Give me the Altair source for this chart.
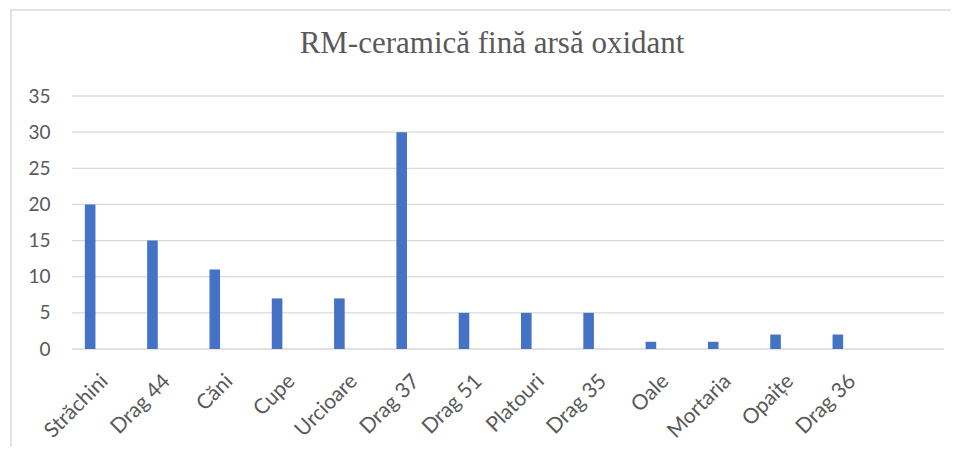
import altair as alt
import pandas as pd

categories = ["Străchini", "Drag 44", "Căni", "Cupe", "Urcioare", "Drag 37", "Drag 51",
              "Platouri", "Drag 35", "Oale", "Mortaria", "Opaițe", "Drag 36"]
values = [20, 15, 11, 7, 7, 30, 5, 5, 5, 1, 1, 2, 2]
y_ticks = [0, 5, 10, 15, 20, 25, 30, 35]
title_text = "RM-ceramică fină arsă oxidant"

df = pd.DataFrame({"cat": categories, "val": values})
df_title = pd.DataFrame({"t": [title_text]})
df_grid = pd.DataFrame({"v": y_ticks})

W, H = 872, 253
GREY = "#595959"

yscale = alt.Scale(domain=[0, 35], nice=False)
yaxis = alt.Axis(title=None, values=y_ticks, labelFont="Lato", labelFontSize=19,
                 labelColor=GREY, labelPadding=22, ticks=False, domain=False, grid=False)

grid = alt.Chart(df_grid).mark_rule(color="#d9d9d9", strokeWidth=1.3).encode(
    y=alt.Y("v:Q", scale=yscale, axis=yaxis),
    x=alt.value(0), x2=alt.value(W),
)

bars = alt.Chart(df).mark_bar(color="#4472C4").encode(
    x=alt.X("cat:N", sort=categories,
            scale=alt.Scale(domain=categories, range=[-13, 797],
                            paddingInner=0.83, paddingOuter=0.415),
            axis=alt.Axis(title=None, labelAngle=-45, labelFont="Lato", labelFontSize=21,
                          labelColor=GREY, labelPadding=21, labelOffset=7,
                          ticks=False, domain=False, grid=False, labelOverlap=False)),
    y=alt.Y("val:Q", scale=yscale, axis=yaxis),
)

title = alt.Chart(df_title).mark_text(
    font="Liberation Serif", fontSize=31, color=GREY, align="center", baseline="alphabetic"
).encode(x=alt.value(420), y=alt.value(-43), text="t:N")

border = alt.Chart(df_title).mark_rect(
    fill=None, stroke="#d9d9d9", strokeWidth=1.5
).encode(x=alt.value(-61), x2=alt.value(900), y=alt.value(-86), y2=alt.value(380))

chart = alt.layer(border, grid, bars, title).properties(
    width=W, height=H,
    autosize=alt.AutoSizeParams(type="none"),
    padding={"left": 64, "top": 88, "right": 7, "bottom": 98},
).configure_view(stroke=None)

chart.save("out.html", embed_options={"renderer": "svg", "actions": False})
